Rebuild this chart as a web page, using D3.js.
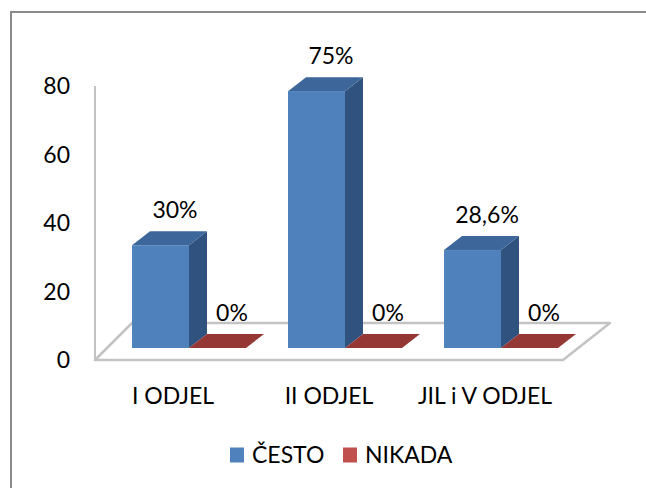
<!DOCTYPE html>
<html>
<head>
<meta charset="utf-8">
<script src="https://cdn.jsdelivr.net/npm/d3@7"></script>
<style>
  html, body { margin: 0; padding: 0; background: #fff; overflow: hidden; }
  svg { display: block; }
  text { font-family: Lato, "Open Sans", sans-serif; fill: #000; }
</style>
</head>
<body>
<script>
// chart data
let categories = ["I ODJEL", "II ODJEL", "JIL i V ODJEL"];
let seriesNames = ["ČESTO", "NIKADA"];
let cestoValues = [30, 75, 28.6];
let nikadaValues = [0, 0, 0];
let yTicks = [0, 20, 40, 60, 80];

let fullSVGWidth = 646;
let fullSVGHeight = 488;

// colours: front, top, side
let faceColors = {
    "ČESTO": { front: "#4f81bd", top: "#3d679b", side: "#30527e", legend: "#4f81bd" },
    "NIKADA": { front: "#c0504d", top: "#953735", side: "#7a2b29", legend: "#c0504d" }
};

// 3D offsets
let barShift = { x: 12, y: -12 };   // front face of bars behind front plane
let barDepth = { x: 18, y: -14 };   // depth of each bar

let series = seriesNames.map(function(name, i) {
    let vals = i === 0 ? cestoValues : nikadaValues;
    return { name: name, values: vals };
});

let svg = d3.select("body")
    .append("svg")
    .attr("width", fullSVGWidth)
    .attr("height", fullSVGHeight);

// outer frame: only top and left edges are in the picture
svg.append("path")
    .attr("d", "M11," + fullSVGHeight + "V12H" + fullSVGWidth)
    .attr("fill", "none")
    .attr("stroke", "#8a8a8a")
    .attr("stroke-width", 2);

// scales (front plane)
let y = d3.scaleLinear().domain([0, 80]).range([360, 86]);
let x = d3.scaleBand().domain(categories).range([95, 563]);
let x1 = d3.scaleBand().domain(seriesNames).range([0, 114]);

let locale = d3.formatLocale({ decimal: ",", thousands: ".", grouping: [3], currency: ["", ""] });
let fmt = function(v) {
    return Number.isInteger(v) ? v + "%" : locale.format(".1f")(v) + "%";
};

// floor
let x0 = x.range()[0], xEnd = x.range()[1];
let floorPts = [
    [x0, y(0)],
    [xEnd, y(0)],
    [xEnd + 47, y(0) - 37],
    [x0 + 37, y(0) - 37]
];
svg.append("polygon")
    .attr("points", floorPts.map(p => p.join(",")).join(" "))
    .attr("fill", "#fff")
    .attr("stroke", "#c3c3c3")
    .attr("stroke-width", 2.5)
    .attr("stroke-linejoin", "round");

// vertical axis line
svg.append("line")
    .attr("x1", x0).attr("x2", x0)
    .attr("y1", y(80)).attr("y2", y(0))
    .attr("stroke", "#c3c3c3")
    .attr("stroke-width", 2);

// y tick labels
svg.selectAll(".ytick")
    .data(yTicks)
    .enter()
    .append("text")
    .attr("class", "ytick")
    .attr("x", 70)
    .attr("y", d => y(d))
    .attr("dy", "0.35em")
    .attr("text-anchor", "end")
    .style("font-size", "23px")
    .text(d => d);

// bars
let bars = [];
categories.forEach(function(cat, ci) {
    series.forEach(function(s) {
        bars.push({ cat: cat, name: s.name, value: s.values[ci] });
    });
});

let g = svg.selectAll(".bar")
    .data(bars)
    .enter()
    .append("g")
    .attr("class", "bar");

function geom(d) {
    let bx = x(d.cat) + barShift.x + 25 + x1(d.name);
    let w = x1.bandwidth();
    let yt = y(d.value) + barShift.y;
    let yb = y(0) + barShift.y;
    return { bx: bx, w: w, yt: yt, yb: yb };
}

g.append("rect")
    .attr("x", d => geom(d).bx)
    .attr("y", d => geom(d).yt)
    .attr("width", d => geom(d).w)
    .attr("height", d => geom(d).yb - geom(d).yt)
    .attr("fill", d => faceColors[d.name].front);

g.append("polygon")
    .attr("points", function(d) {
        let q = geom(d);
        return [
            [q.bx + q.w, q.yt],
            [q.bx + q.w + barDepth.x, q.yt + barDepth.y],
            [q.bx + q.w + barDepth.x, q.yb + barDepth.y],
            [q.bx + q.w, q.yb]
        ].map(p => p.join(",")).join(" ");
    })
    .attr("fill", d => faceColors[d.name].side);

g.append("polygon")
    .attr("points", function(d) {
        let q = geom(d);
        return [
            [q.bx, q.yt],
            [q.bx + q.w, q.yt],
            [q.bx + q.w + barDepth.x, q.yt + barDepth.y],
            [q.bx + barDepth.x, q.yt + barDepth.y]
        ].map(p => p.join(",")).join(" ");
    })
    .attr("fill", d => faceColors[d.name].top);

// value labels
g.append("text")
    .attr("x", d => geom(d).bx + 43)
    .attr("y", d => geom(d).yt - 35)
    .attr("dy", "0.35em")
    .attr("text-anchor", "middle")
    .style("font-size", "23px")
    .text(d => fmt(d.value));

// category labels
svg.selectAll(".xlabel")
    .data(categories)
    .enter()
    .append("text")
    .attr("class", "xlabel")
    .attr("x", d => x(d) + x.bandwidth() / 2)
    .attr("y", 396)
    .attr("dy", "0.35em")
    .attr("text-anchor", "middle")
    .style("font-size", "23px")
    .text(d => d);

// legend
let legendX = [230, 343];
let legend = svg.selectAll(".legend")
    .data(seriesNames)
    .enter()
    .append("g")
    .attr("class", "legend")
    .attr("transform", (d, i) => "translate(" + legendX[i] + ",455)");

legend.append("rect")
    .attr("x", 0)
    .attr("y", -7.5)
    .attr("width", 14)
    .attr("height", 15)
    .attr("fill", d => faceColors[d].legend);

legend.append("text")
    .attr("x", 22)
    .attr("y", 0)
    .attr("dy", "0.35em")
    .style("font-size", "23px")
    .text(d => d);
</script>
</body>
</html>
